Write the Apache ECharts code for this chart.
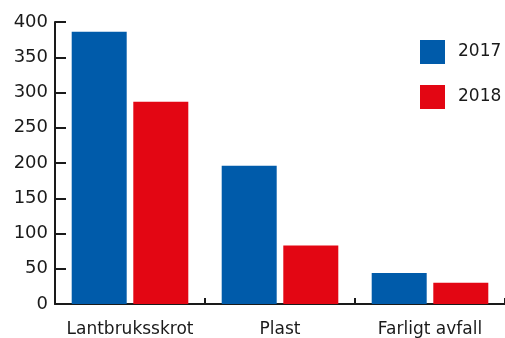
<!DOCTYPE html>
<html>
<head>
<meta charset="utf-8">
<script src="https://cdn.jsdelivr.net/npm/echarts@6/dist/echarts.min.js"></script>
<style>
  html, body { margin: 0; padding: 0; background: #fff; }
  #chart { width: 505px; height: 338px; }
</style>
</head>
<body>
<div id="chart"></div>
<script>
// Waste collected per category (tonnes)
const categories = ['Lantbruksskrot', 'Plast', 'Farligt avfall'];
const years = ['2017', '2018'];
const values2017 = [386, 196, 44];
const values2018 = [287, 83, 30];
const yTicks = { min: 0, max: 400, interval: 50 };

const colors = ['#005BAA', '#E30613'];
const fontFamily = 'DejaVu Sans';

const chart = echarts.init(document.getElementById('chart'), null, { renderer: 'canvas' });

chart.setOption({
  animation: false,
  backgroundColor: '#fff',
  textStyle: { fontFamily: fontFamily },
  grid: { left: 55, right: -3, top: 22, bottom: 33, containLabel: false },
  legend: {
    orient: 'vertical',
    left: 415,
    top: 35,
    itemWidth: 25,
    itemHeight: 24,
    itemGap: 21,
    icon: 'rect',
    data: years,
    textStyle: { fontSize: 17, color: '#1a1a1a', fontFamily: fontFamily, padding: [0, 0, 0, 8] }
  },
  xAxis: {
    type: 'category',
    data: categories,
    axisLine: { show: true, lineStyle: { color: '#1a1a1a', width: 2 } },
    axisTick: { show: true, inside: true, length: 6, interval: 0, alignWithLabel: false, lineStyle: { color: '#1a1a1a', width: 2 } },
    axisLabel: { show: true, interval: 0, fontSize: 17, color: '#1a1a1a', margin: 17, fontFamily: fontFamily }
  },
  yAxis: {
    type: 'value',
    min: yTicks.min,
    max: yTicks.max,
    interval: yTicks.interval,
    splitLine: { show: false },
    axisLine: { show: true, lineStyle: { color: '#1a1a1a', width: 2 } },
    axisTick: { show: true, inside: true, length: 11, lineStyle: { color: '#1a1a1a', width: 2 } },
    axisLabel: { fontSize: 18, color: '#1a1a1a', margin: 7, fontFamily: fontFamily }
  },
  series: [
    {
      name: years[0],
      type: 'bar',
      data: values2017,
      barWidth: 55,
      barGap: '12%',
      itemStyle: { color: colors[0] }
    },
    {
      name: years[1],
      type: 'bar',
      data: values2018,
      barWidth: 55,
      barGap: '12%',
      itemStyle: { color: colors[1] }
    }
  ]
});
</script>
</body>
</html>
